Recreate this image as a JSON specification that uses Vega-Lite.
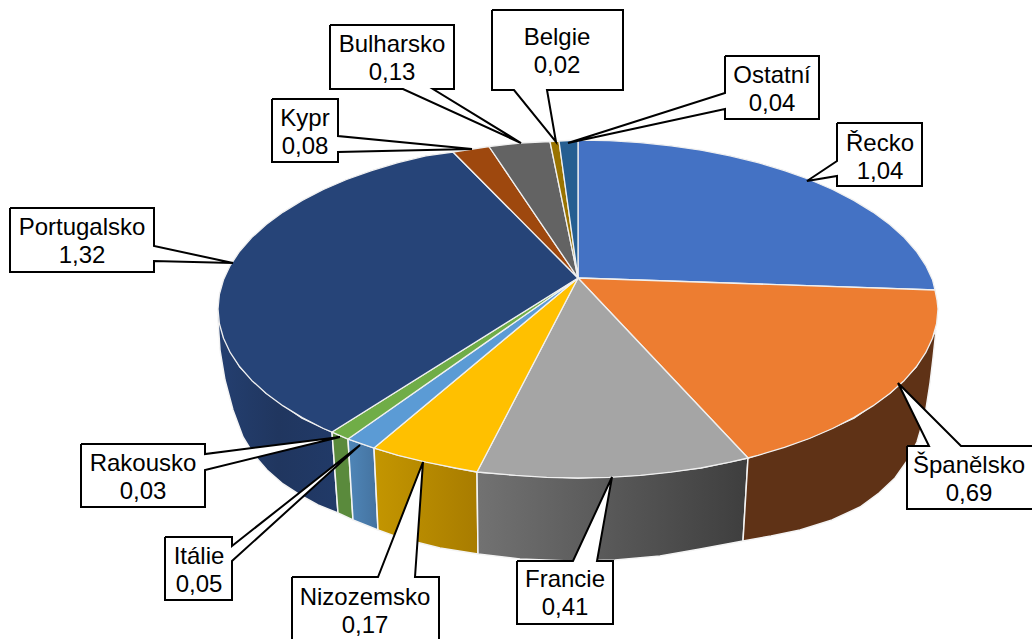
{"$schema":"https://vega.github.io/schema/vega-lite/v6.json","width":1032,"height":639,"autosize":{"type":"none"},"padding":0,"background":"#ffffff","config":{"view":{"stroke":null},"font":"Liberation Sans"},
"datasets":{
"sides":[
{"slice":"Španělsko","order":0,"x":936,"y":330},{"slice":"Španělsko","order":1,"x":933,"y":358},{"slice":"Španělsko","order":2,"x":930,"y":383},{"slice":"Španělsko","order":3,"x":925,"y":415},{"slice":"Španělsko","order":4,"x":917,"y":442},{"slice":"Španělsko","order":5,"x":907,"y":461},{"slice":"Španělsko","order":6,"x":895,"y":478},{"slice":"Španělsko","order":7,"x":879,"y":493},{"slice":"Španělsko","order":8,"x":860,"y":507},{"slice":"Španělsko","order":9,"x":832,"y":520},{"slice":"Španělsko","order":10,"x":800,"y":530},{"slice":"Španělsko","order":11,"x":771,"y":536},{"slice":"Španělsko","order":12,"x":743,"y":541},{"slice":"Španělsko","order":13,"x":748,"y":458},{"slice":"Španělsko","order":14,"x":809,"y":438},{"slice":"Španělsko","order":15,"x":854,"y":418},{"slice":"Španělsko","order":16,"x":890,"y":393},{"slice":"Španělsko","order":17,"x":916,"y":367},{"slice":"Španělsko","order":18,"x":936,"y":330},
{"slice":"Francie","order":0,"x":477,"y":472},{"slice":"Francie","order":1,"x":515,"y":475},{"slice":"Francie","order":2,"x":578,"y":478},{"slice":"Francie","order":3,"x":640,"y":475},{"slice":"Francie","order":4,"x":701,"y":468},{"slice":"Francie","order":5,"x":748,"y":458},{"slice":"Francie","order":6,"x":743,"y":541},{"slice":"Francie","order":7,"x":700,"y":549},{"slice":"Francie","order":8,"x":660,"y":556},{"slice":"Francie","order":9,"x":615,"y":560},{"slice":"Francie","order":10,"x":570,"y":561},{"slice":"Francie","order":11,"x":520,"y":559},{"slice":"Francie","order":12,"x":478,"y":554},{"slice":"Francie","order":13,"x":477,"y":472},
{"slice":"Nizozemsko","order":0,"x":374,"y":448},{"slice":"Nizozemsko","order":1,"x":398,"y":455},{"slice":"Nizozemsko","order":2,"x":455,"y":468},{"slice":"Nizozemsko","order":3,"x":477,"y":472},{"slice":"Nizozemsko","order":4,"x":478,"y":554},{"slice":"Nizozemsko","order":5,"x":440,"y":548},{"slice":"Nizozemsko","order":6,"x":400,"y":538},{"slice":"Nizozemsko","order":7,"x":378,"y":530},{"slice":"Nizozemsko","order":8,"x":374,"y":448},
{"slice":"Itálie","order":0,"x":348,"y":439},{"slice":"Itálie","order":1,"x":374,"y":448},{"slice":"Itálie","order":2,"x":378,"y":530},{"slice":"Itálie","order":3,"x":353,"y":520},{"slice":"Itálie","order":4,"x":348,"y":439},
{"slice":"Rakousko","order":0,"x":332,"y":432},{"slice":"Rakousko","order":1,"x":348,"y":439},{"slice":"Rakousko","order":2,"x":353,"y":520},{"slice":"Rakousko","order":3,"x":338,"y":513},{"slice":"Rakousko","order":4,"x":332,"y":432},
{"slice":"Portugalsko","order":0,"x":218,"y":309},{"slice":"Portugalsko","order":1,"x":224,"y":338},{"slice":"Portugalsko","order":2,"x":240,"y":367},{"slice":"Portugalsko","order":3,"x":266,"y":393},{"slice":"Portugalsko","order":4,"x":302,"y":418},{"slice":"Portugalsko","order":5,"x":332,"y":432},{"slice":"Portugalsko","order":6,"x":338,"y":513},{"slice":"Portugalsko","order":7,"x":318,"y":505},{"slice":"Portugalsko","order":8,"x":300,"y":495},{"slice":"Portugalsko","order":9,"x":283,"y":484},{"slice":"Portugalsko","order":10,"x":267,"y":470},{"slice":"Portugalsko","order":11,"x":254,"y":455},{"slice":"Portugalsko","order":12,"x":243,"y":437},{"slice":"Portugalsko","order":13,"x":233,"y":410},{"slice":"Portugalsko","order":14,"x":225,"y":380},{"slice":"Portugalsko","order":15,"x":220,"y":350},{"slice":"Portugalsko","order":16,"x":218,"y":320},{"slice":"Portugalsko","order":17,"x":218,"y":309}
],
"top":[
{"slice":"Řecko","order":0,"x":578,"y":278},{"slice":"Řecko","order":1,"x":578,"y":140},{"slice":"Řecko","order":2,"x":609.4,"y":140.6},{"slice":"Řecko","order":3,"x":640.5,"y":142.6},{"slice":"Řecko","order":4,"x":671.2,"y":145.8},{"slice":"Řecko","order":5,"x":701.1,"y":150.2},{"slice":"Řecko","order":6,"x":730.1,"y":155.8},{"slice":"Řecko","order":7,"x":758,"y":162.6},{"slice":"Řecko","order":8,"x":784.5,"y":170.6},{"slice":"Řecko","order":9,"x":809.4,"y":179.5},{"slice":"Řecko","order":10,"x":832.6,"y":189.5},{"slice":"Řecko","order":11,"x":853.8,"y":200.4},{"slice":"Řecko","order":12,"x":872.9,"y":212.1},{"slice":"Řecko","order":13,"x":889.8,"y":224.5},{"slice":"Řecko","order":14,"x":904.3,"y":237.6},{"slice":"Řecko","order":15,"x":916.3,"y":251.2},{"slice":"Řecko","order":16,"x":925.7,"y":265.3},{"slice":"Řecko","order":17,"x":932.5,"y":279.7},{"slice":"Řecko","order":18,"x":935,"y":290},{"slice":"Řecko","order":19,"x":578,"y":278},
{"slice":"Španělsko","order":0,"x":578,"y":278},{"slice":"Španělsko","order":1,"x":935,"y":290},{"slice":"Španělsko","order":2,"x":937,"y":300},{"slice":"Španělsko","order":3,"x":938,"y":309},{"slice":"Španělsko","order":4,"x":936.6,"y":323.7},{"slice":"Španělsko","order":5,"x":932.5,"y":338.3},{"slice":"Španělsko","order":6,"x":925.7,"y":352.7},{"slice":"Španělsko","order":7,"x":916.3,"y":366.8},{"slice":"Španělsko","order":8,"x":904.3,"y":380.4},{"slice":"Španělsko","order":9,"x":889.8,"y":393.5},{"slice":"Španělsko","order":10,"x":872.9,"y":405.9},{"slice":"Španělsko","order":11,"x":853.8,"y":417.6},{"slice":"Španělsko","order":12,"x":832.6,"y":428.5},{"slice":"Španělsko","order":13,"x":809.4,"y":438.5},{"slice":"Španělsko","order":14,"x":784.5,"y":447.4},{"slice":"Španělsko","order":15,"x":758,"y":455.4},{"slice":"Španělsko","order":16,"x":748,"y":458},{"slice":"Španělsko","order":17,"x":578,"y":278},
{"slice":"Francie","order":0,"x":578,"y":278},{"slice":"Francie","order":1,"x":748,"y":458},{"slice":"Francie","order":2,"x":730.1,"y":462.2},{"slice":"Francie","order":3,"x":701.1,"y":467.8},{"slice":"Francie","order":4,"x":671.2,"y":472.2},{"slice":"Francie","order":5,"x":640.5,"y":475.4},{"slice":"Francie","order":6,"x":609.4,"y":477.4},{"slice":"Francie","order":7,"x":578,"y":478},{"slice":"Francie","order":8,"x":546.6,"y":477.4},{"slice":"Francie","order":9,"x":515.5,"y":475.4},{"slice":"Francie","order":10,"x":477,"y":472},{"slice":"Francie","order":11,"x":578,"y":278},
{"slice":"Nizozemsko","order":0,"x":578,"y":278},{"slice":"Nizozemsko","order":1,"x":477,"y":472},{"slice":"Nizozemsko","order":2,"x":454.9,"y":467.8},{"slice":"Nizozemsko","order":3,"x":425.9,"y":462.2},{"slice":"Nizozemsko","order":4,"x":398,"y":455.4},{"slice":"Nizozemsko","order":5,"x":374,"y":448},{"slice":"Nizozemsko","order":6,"x":578,"y":278},
{"slice":"Itálie","order":0,"x":578,"y":278},{"slice":"Itálie","order":1,"x":374,"y":448},{"slice":"Itálie","order":2,"x":348,"y":439},{"slice":"Itálie","order":3,"x":578,"y":278},
{"slice":"Rakousko","order":0,"x":578,"y":278},{"slice":"Rakousko","order":1,"x":348,"y":439},{"slice":"Rakousko","order":2,"x":332,"y":432},{"slice":"Rakousko","order":3,"x":578,"y":278},
{"slice":"Portugalsko","order":0,"x":578,"y":278},{"slice":"Portugalsko","order":1,"x":332,"y":432},{"slice":"Portugalsko","order":2,"x":323.4,"y":428.5},{"slice":"Portugalsko","order":3,"x":302.2,"y":417.6},{"slice":"Portugalsko","order":4,"x":283.1,"y":405.9},{"slice":"Portugalsko","order":5,"x":266.2,"y":393.5},{"slice":"Portugalsko","order":6,"x":251.7,"y":380.4},{"slice":"Portugalsko","order":7,"x":239.7,"y":366.8},{"slice":"Portugalsko","order":8,"x":230.3,"y":352.7},{"slice":"Portugalsko","order":9,"x":223.5,"y":338.3},{"slice":"Portugalsko","order":10,"x":219.4,"y":323.7},{"slice":"Portugalsko","order":11,"x":218,"y":309},{"slice":"Portugalsko","order":12,"x":219.4,"y":294.3},{"slice":"Portugalsko","order":13,"x":223.5,"y":279.7},{"slice":"Portugalsko","order":14,"x":230.3,"y":265.3},{"slice":"Portugalsko","order":15,"x":239.7,"y":251.2},{"slice":"Portugalsko","order":16,"x":251.7,"y":237.6},{"slice":"Portugalsko","order":17,"x":266.2,"y":224.5},{"slice":"Portugalsko","order":18,"x":283.1,"y":212.1},{"slice":"Portugalsko","order":19,"x":302.2,"y":200.4},{"slice":"Portugalsko","order":20,"x":323.4,"y":189.5},{"slice":"Portugalsko","order":21,"x":346.6,"y":179.5},{"slice":"Portugalsko","order":22,"x":371.5,"y":170.6},{"slice":"Portugalsko","order":23,"x":398,"y":162.6},{"slice":"Portugalsko","order":24,"x":425.9,"y":155.8},{"slice":"Portugalsko","order":25,"x":453,"y":152},{"slice":"Portugalsko","order":26,"x":578,"y":278},
{"slice":"Kypr","order":0,"x":578,"y":278},{"slice":"Kypr","order":1,"x":453,"y":152},{"slice":"Kypr","order":2,"x":489,"y":146.5},{"slice":"Kypr","order":3,"x":578,"y":278},
{"slice":"Bulharsko","order":0,"x":578,"y":278},{"slice":"Bulharsko","order":1,"x":489,"y":146.5},{"slice":"Bulharsko","order":2,"x":520,"y":143},{"slice":"Bulharsko","order":3,"x":550,"y":141.5},{"slice":"Bulharsko","order":4,"x":578,"y":278},
{"slice":"Belgie","order":0,"x":578,"y":278},{"slice":"Belgie","order":1,"x":550,"y":141.5},{"slice":"Belgie","order":2,"x":559,"y":141},{"slice":"Belgie","order":3,"x":578,"y":278},
{"slice":"Ostatní","order":0,"x":578,"y":278},{"slice":"Ostatní","order":1,"x":559,"y":141},{"slice":"Ostatní","order":2,"x":578,"y":140},{"slice":"Ostatní","order":3,"x":578,"y":278}
],
"callouts":[
{"name":"Řecko","order":0,"x":837,"y":123},{"name":"Řecko","order":1,"x":922,"y":123},{"name":"Řecko","order":2,"x":922,"y":186},{"name":"Řecko","order":3,"x":837,"y":186},{"name":"Řecko","order":4,"x":837,"y":176},{"name":"Řecko","order":5,"x":807,"y":181},{"name":"Řecko","order":6,"x":837,"y":161},{"name":"Řecko","order":7,"x":837,"y":123},
{"name":"Ostatní","order":0,"x":725,"y":56},{"name":"Ostatní","order":1,"x":819,"y":56},{"name":"Ostatní","order":2,"x":819,"y":119},{"name":"Ostatní","order":3,"x":725,"y":119},{"name":"Ostatní","order":4,"x":725,"y":109},{"name":"Ostatní","order":5,"x":568,"y":143},{"name":"Ostatní","order":6,"x":725,"y":93},{"name":"Ostatní","order":7,"x":725,"y":56},
{"name":"Belgie","order":0,"x":492,"y":10},{"name":"Belgie","order":1,"x":623,"y":10},{"name":"Belgie","order":2,"x":623,"y":90},{"name":"Belgie","order":3,"x":547,"y":90},{"name":"Belgie","order":4,"x":556,"y":142},{"name":"Belgie","order":5,"x":514,"y":90},{"name":"Belgie","order":6,"x":492,"y":90},{"name":"Belgie","order":7,"x":492,"y":10},
{"name":"Bulharsko","order":0,"x":330,"y":25},{"name":"Bulharsko","order":1,"x":454,"y":25},{"name":"Bulharsko","order":2,"x":454,"y":89},{"name":"Bulharsko","order":3,"x":433,"y":89},{"name":"Bulharsko","order":4,"x":521,"y":143},{"name":"Bulharsko","order":5,"x":403,"y":89},{"name":"Bulharsko","order":6,"x":330,"y":89},{"name":"Bulharsko","order":7,"x":330,"y":25},
{"name":"Kypr","order":0,"x":272,"y":99},{"name":"Kypr","order":1,"x":338,"y":99},{"name":"Kypr","order":2,"x":338,"y":136},{"name":"Kypr","order":3,"x":472,"y":149},{"name":"Kypr","order":4,"x":338,"y":152},{"name":"Kypr","order":5,"x":338,"y":162},{"name":"Kypr","order":6,"x":272,"y":162},{"name":"Kypr","order":7,"x":272,"y":99},
{"name":"Portugalsko","order":0,"x":10,"y":208},{"name":"Portugalsko","order":1,"x":154,"y":208},{"name":"Portugalsko","order":2,"x":154,"y":246},{"name":"Portugalsko","order":3,"x":233,"y":263},{"name":"Portugalsko","order":4,"x":154,"y":261},{"name":"Portugalsko","order":5,"x":154,"y":272},{"name":"Portugalsko","order":6,"x":10,"y":272},{"name":"Portugalsko","order":7,"x":10,"y":208},
{"name":"Rakousko","order":0,"x":81,"y":444},{"name":"Rakousko","order":1,"x":205,"y":444},{"name":"Rakousko","order":2,"x":205,"y":454},{"name":"Rakousko","order":3,"x":340,"y":437},{"name":"Rakousko","order":4,"x":205,"y":470},{"name":"Rakousko","order":5,"x":205,"y":507},{"name":"Rakousko","order":6,"x":81,"y":507},{"name":"Rakousko","order":7,"x":81,"y":444},
{"name":"Itálie","order":0,"x":165,"y":537},{"name":"Itálie","order":1,"x":232,"y":537},{"name":"Itálie","order":2,"x":232,"y":546},{"name":"Itálie","order":3,"x":360,"y":445},{"name":"Itálie","order":4,"x":232,"y":561},{"name":"Itálie","order":5,"x":232,"y":600},{"name":"Itálie","order":6,"x":165,"y":600},{"name":"Itálie","order":7,"x":165,"y":537},
{"name":"Nizozemsko","order":0,"x":292,"y":577},{"name":"Nizozemsko","order":1,"x":378,"y":577},{"name":"Nizozemsko","order":2,"x":423,"y":462},{"name":"Nizozemsko","order":3,"x":415,"y":577},{"name":"Nizozemsko","order":4,"x":439,"y":577},{"name":"Nizozemsko","order":5,"x":439,"y":650},{"name":"Nizozemsko","order":6,"x":292,"y":650},{"name":"Nizozemsko","order":7,"x":292,"y":577},
{"name":"Francie","order":0,"x":517,"y":561},{"name":"Francie","order":1,"x":573,"y":561},{"name":"Francie","order":2,"x":612,"y":477},{"name":"Francie","order":3,"x":597,"y":561},{"name":"Francie","order":4,"x":613,"y":561},{"name":"Francie","order":5,"x":613,"y":624},{"name":"Francie","order":6,"x":517,"y":624},{"name":"Francie","order":7,"x":517,"y":561},
{"name":"Španělsko","order":0,"x":907,"y":446},{"name":"Španělsko","order":1,"x":929,"y":446},{"name":"Španělsko","order":2,"x":898,"y":383},{"name":"Španělsko","order":3,"x":961,"y":446},{"name":"Španělsko","order":4,"x":1045,"y":446},{"name":"Španělsko","order":5,"x":1045,"y":509},{"name":"Španělsko","order":6,"x":907,"y":509},{"name":"Španělsko","order":7,"x":907,"y":446}
],
"labels":[
{"name":"Řecko","value":1.04,"label":"Řecko\n1,04","x":880,"y":144},
{"name":"Španělsko","value":0.69,"label":"Španělsko\n0,69","x":969,"y":466},
{"name":"Francie","value":0.41,"label":"Francie\n0,41","x":565,"y":580},
{"name":"Nizozemsko","value":0.17,"label":"Nizozemsko\n0,17","x":365,"y":598},
{"name":"Itálie","value":0.05,"label":"Itálie\n0,05","x":199,"y":557},
{"name":"Rakousko","value":0.03,"label":"Rakousko\n0,03","x":143,"y":464},
{"name":"Portugalsko","value":1.32,"label":"Portugalsko\n1,32","x":82,"y":228},
{"name":"Kypr","value":0.08,"label":"Kypr\n0,08","x":305,"y":119},
{"name":"Bulharsko","value":0.13,"label":"Bulharsko\n0,13","x":392,"y":45},
{"name":"Belgie","value":0.02,"label":"Belgie\n0,02","x":557,"y":38},
{"name":"Ostatní","value":0.04,"label":"Ostatní\n0,04","x":772,"y":76}
]},
"encoding":{
"x":{"field":"x","type":"quantitative","scale":{"domain":[0,1032],"zero":false,"nice":false},"axis":null},
"y":{"field":"y","type":"quantitative","scale":{"domain":[639,0],"zero":false,"nice":false},"axis":null}
},
"layer":[
{"data":{"name":"sides"},"transform":[{"filter":"datum.slice==='Portugalsko'"}],"mark":{"type":"line","stroke":"#f4f4f4","strokeWidth":1.5,"fill":{"gradient":"linear","x1":0,"x2":1,"y1":0,"y2":0,"stops":[{"offset":0,"color":"#243f70"},{"offset":0.5,"color":"#20365f"},{"offset":1,"color":"#213a68"}]}},"encoding":{"order":{"field":"order","type":"quantitative"}}},
{"data":{"name":"sides"},"transform":[{"filter":"datum.slice==='Rakousko'"}],"mark":{"type":"line","stroke":"#f4f4f4","strokeWidth":1.5,"fill":"#5a8a3c"},"encoding":{"order":{"field":"order","type":"quantitative"}}},
{"data":{"name":"sides"},"transform":[{"filter":"datum.slice==='Itálie'"}],"mark":{"type":"line","stroke":"#f4f4f4","strokeWidth":1.5,"fill":{"gradient":"linear","x1":0,"x2":1,"y1":0,"y2":0,"stops":[{"offset":0,"color":"#4f86b8"},{"offset":1,"color":"#44729f"}]}},"encoding":{"order":{"field":"order","type":"quantitative"}}},
{"data":{"name":"sides"},"transform":[{"filter":"datum.slice==='Nizozemsko'"}],"mark":{"type":"line","stroke":"#f4f4f4","strokeWidth":1.5,"fill":{"gradient":"linear","x1":0,"x2":1,"y1":0,"y2":0,"stops":[{"offset":0,"color":"#c49600"},{"offset":1,"color":"#a87c00"}]}},"encoding":{"order":{"field":"order","type":"quantitative"}}},
{"data":{"name":"sides"},"transform":[{"filter":"datum.slice==='Francie'"}],"mark":{"type":"line","stroke":"#f4f4f4","strokeWidth":1.5,"fill":{"gradient":"linear","x1":0,"x2":1,"y1":0,"y2":0,"stops":[{"offset":0,"color":"#727272"},{"offset":1,"color":"#3e3e3e"}]}},"encoding":{"order":{"field":"order","type":"quantitative"}}},
{"data":{"name":"sides"},"transform":[{"filter":"datum.slice==='Španělsko'"}],"mark":{"type":"line","stroke":"#f4f4f4","strokeWidth":1.5,"fill":"#5f3216"},"encoding":{"order":{"field":"order","type":"quantitative"}}},
{"data":{"name":"top"},"mark":{"type":"line","stroke":"#f0f0f0","strokeWidth":1.3,"strokeJoin":"round"},"encoding":{"order":{"field":"order","type":"quantitative"},"detail":{"field":"slice"},"fill":{"field":"slice","type":"nominal","legend":null,"scale":{"domain":["Řecko","Španělsko","Francie","Nizozemsko","Itálie","Rakousko","Portugalsko","Kypr","Bulharsko","Belgie","Ostatní"],"range":["#4472c4","#ed7d31","#a5a5a5","#ffc000","#5b9bd5","#70ad47","#264478","#9e480e","#636363","#997300","#255e91"]}}}},
{"data":{"name":"callouts"},"mark":{"type":"line","fill":"#ffffff","stroke":"#000000","strokeWidth":2,"strokeJoin":"miter","clip":true},"encoding":{"order":{"field":"order","type":"quantitative"},"detail":{"field":"name"}}},
{"data":{"name":"labels"},"mark":{"type":"text","font":"Liberation Sans","fontSize":24,"lineBreak":"\n","lineHeight":28,"align":"center","baseline":"middle","color":"#000000"},"encoding":{"text":{"field":"label"}}}
]}
